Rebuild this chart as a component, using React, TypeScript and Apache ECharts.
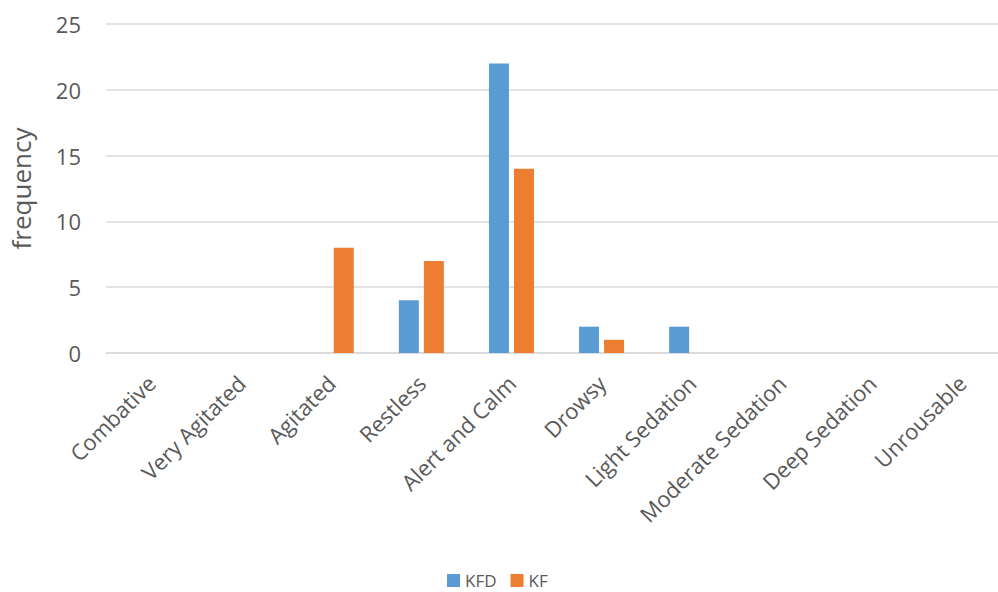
import React, { useEffect, useRef } from "react";
import * as echarts from "echarts";

const categories = [
  "Combative",
  "Very Agitated",
  "Agitated",
  "Restless",
  "Alert and Calm",
  "Drowsy",
  "Light Sedation",
  "Moderate Sedation",
  "Deep Sedation",
  "Unrousable",
];
const kfd = [0, 0, 0, 4, 22, 2, 2, 0, 0, 0];
const kf = [0, 0, 8, 7, 14, 1, 0, 0, 0, 0];
const yTicks = [0, 5, 10, 15, 20, 25];

const FONT = "Open Sans";
const TEXT = "#595959";

export default function App() {
  const ref = useRef<HTMLDivElement>(null);
  useEffect(() => {
    if (!ref.current) return;
    const chart = echarts.init(ref.current, undefined, { renderer: "svg" });
    chart.setOption({
      animation: false,
      backgroundColor: "#ffffff",
      textStyle: { fontFamily: FONT },
      grid: { left: 101, right: 3, top: 24, bottom: 239, containLabel: false },
      legend: {
        data: ["KFD", "KF"],
        top: 572,
        left: 447,
        padding: 0,
        icon: "rect",
        itemWidth: 13,
        itemHeight: 13,
        itemGap: 14,
        textStyle: { color: TEXT, fontSize: 17, fontFamily: FONT },
      },
      xAxis: {
        type: "category",
        data: categories,
        axisLine: { lineStyle: { color: "#d9d9d9", width: 1.5 } },
        axisTick: { show: false },
        axisLabel: {
          rotate: 45,
          interval: 0,
          color: TEXT,
          fontSize: 22,
          fontFamily: FONT,
          margin: 26,
        },
      },
      yAxis: {
        type: "value",
        min: yTicks[0],
        max: yTicks[yTicks.length - 1],
        interval: 5,
        name: "frequency",
        nameLocation: "middle",
        nameGap: 72,
        nameTextStyle: { color: TEXT, fontSize: 26, fontFamily: FONT },
        axisLine: { show: false },
        axisTick: { show: false },
        axisLabel: { color: TEXT, fontSize: 22, fontFamily: FONT, margin: 25 },
        splitLine: { lineStyle: { color: "#d9d9d9", width: 1.5 } },
      },
      series: [
        {
          name: "KFD",
          type: "bar",
          data: kfd,
          barWidth: 20,
          barGap: "25%",
          itemStyle: { color: "#5B9BD5" },
        },
        {
          name: "KF",
          type: "bar",
          data: kf,
          barWidth: 20,
          barGap: "25%",
          itemStyle: { color: "#ED7D31" },
        },
      ],
    });
    return () => chart.dispose();
  }, []);
  return (
    <div
      style={{
        position: "fixed",
        left: 0,
        top: 0,
        width: 998,
        height: 592,
        overflow: "hidden",
        background: "#ffffff",
      }}
    >
      <div ref={ref} style={{ width: 1010, height: 592 }} />
    </div>
  );
}
